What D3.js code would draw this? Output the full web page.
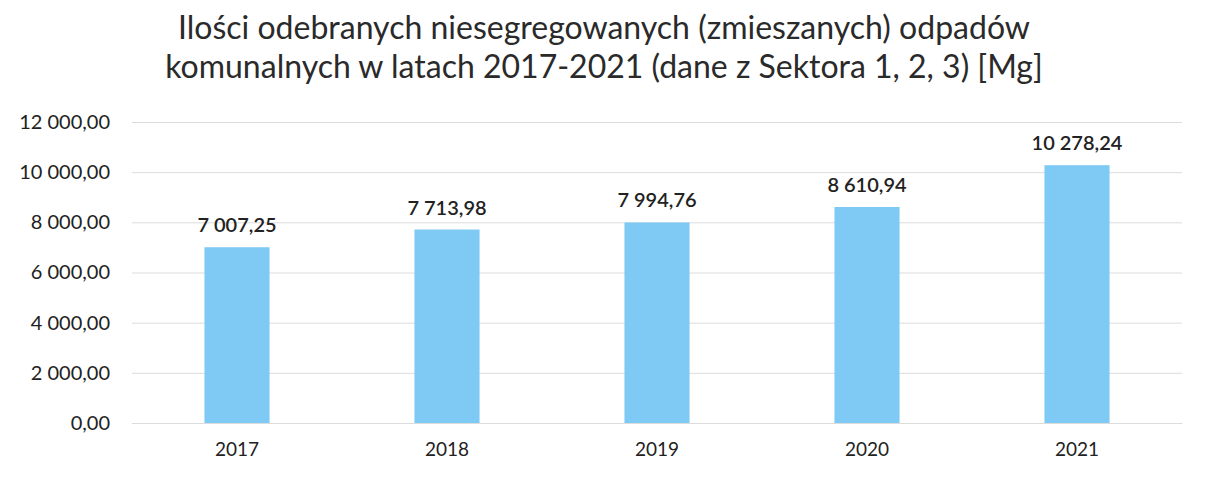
<!DOCTYPE html>
<html><head><meta charset="utf-8">
<script src="https://cdn.jsdelivr.net/npm/d3@7"></script>
<style>body{margin:0;background:#fff}svg{display:block}</style>
</head><body>
<svg id="c" width="1206" height="477"></svg>
<script>
const categories = ["2017","2018","2019","2020","2021"];
const values = [7007.25, 7713.98, 7994.76, 8610.94, 10278.24];
const yTicks = [0, 2000, 4000, 6000, 8000, 10000, 12000];
const titleLines = ["Ilości odebranych niesegregowanych (zmieszanych) odpadów",
                    "komunalnych w latach 2017-2021 (dane z Sektora 1, 2, 3) [Mg]"];

const svg = d3.select("#c");
const font = "Lato, 'Open Sans', sans-serif";
const m = {left:132, right:1182, top:122, bottom:423};

const fmt = v => {
  const s = v.toFixed(2).split(".");
  const int = s[0].replace(/\B(?=(\d{3})+(?!\d))/g, "\u00a0");
  return int + "," + s[1];
};

const x = d3.scaleBand().domain(categories).range([m.left, m.right]).paddingInner(0.69).paddingOuter(0.345);
const y = d3.scaleLinear().domain([0, 12000]).range([m.bottom, m.top]);

svg.append("g").selectAll("text").data(titleLines).join("text")
  .attr("x", 604).attr("y", (d,i)=>39+i*39).attr("text-anchor","middle")
  .attr("font-family", font).attr("font-size", 32).attr("fill","#2a2a2a")
  .text(d=>d);

const gy = svg.append("g").attr("transform",`translate(${m.left},0)`)
  .call(d3.axisLeft(y).tickValues(yTicks).tickSize(-(m.right-m.left)).tickPadding(22).tickFormat(fmt));
gy.select(".domain").remove();
gy.selectAll(".tick line").attr("stroke","#dcdcdc").attr("stroke-width",1);
gy.selectAll(".tick text").attr("font-family",font).attr("font-size",20).attr("fill","#222");

svg.append("g").selectAll("rect").data(values).join("rect")
  .attr("x",(d,i)=>x(categories[i])).attr("width",x.bandwidth())
  .attr("y",d=>y(d)).attr("height",d=>y(0)-y(d))
  .attr("fill","#7fcaf4");

svg.append("g").selectAll("text").data(values).join("text")
  .attr("x",(d,i)=>x(categories[i])+x.bandwidth()/2).attr("y",d=>y(d)-15)
  .attr("text-anchor","middle").attr("font-family",font).attr("font-size",20)
  .attr("font-weight",600).attr("fill","#222").text(d=>fmt(d));

const gx = svg.append("g").attr("transform",`translate(0,${m.bottom})`)
  .call(d3.axisBottom(x).tickSize(0).tickPadding(20));
gx.select(".domain").attr("stroke","#dcdcdc");
gx.selectAll(".tick text").attr("font-family",font).attr("font-size",19).attr("fill","#222");
</script>
</body></html>
